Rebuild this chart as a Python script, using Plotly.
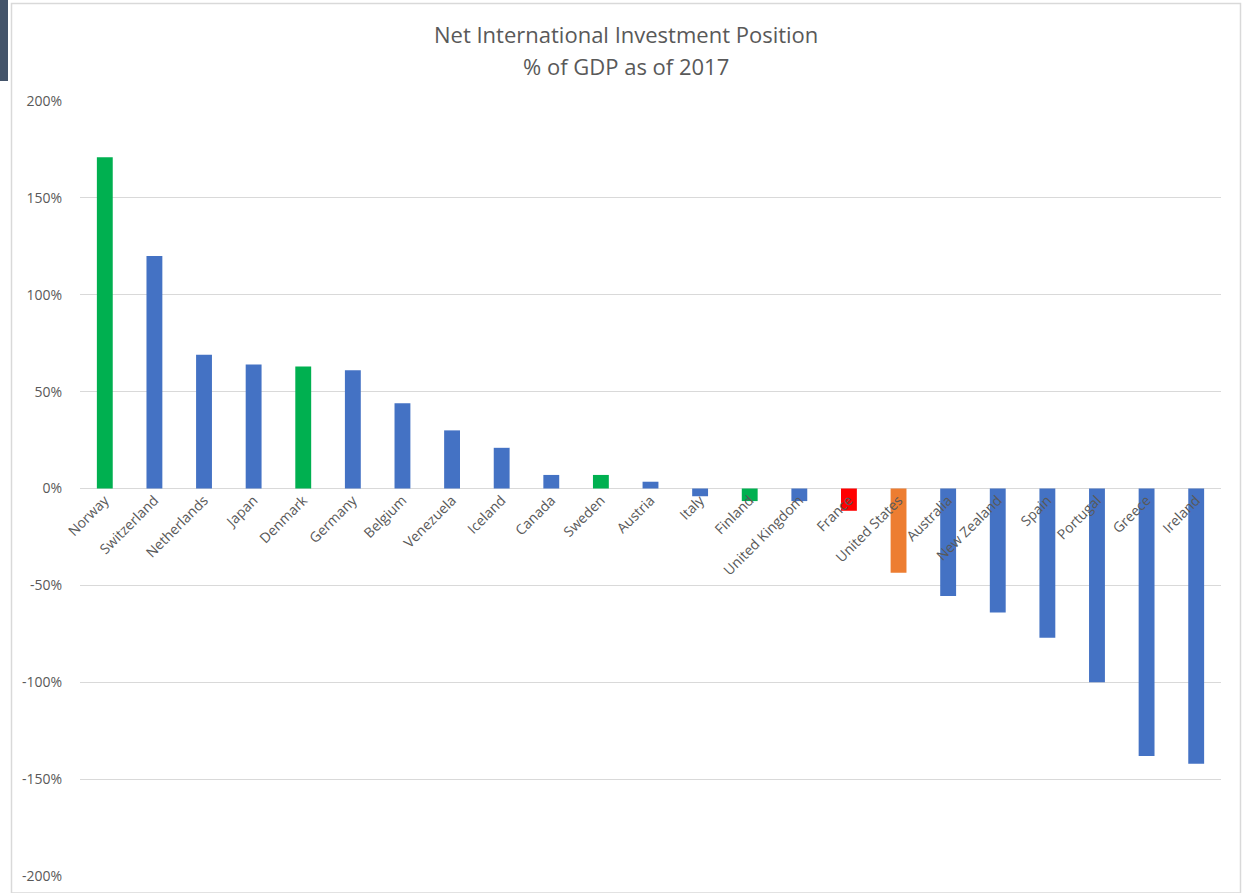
import plotly.graph_objects as go

countries = ["Norway", "Switzerland", "Netherlands", "Japan", "Denmark", "Germany",
             "Belgium", "Venezuela", "Iceland", "Canada", "Sweden", "Austria", "Italy",
             "Finland", "United Kingdom", "France", "United States", "Australia",
             "New Zealand", "Spain", "Portugal", "Greece", "Ireland"]
niip_pct = [171, 120, 69, 64, 63, 61, 44, 30, 21, 7, 7, 3.5, -4, -6.5, -6.5, -11.5,
            -43.5, -55.5, -64, -77, -100, -138, -142]
bar_colors = ["#00B050", "#4472C4", "#4472C4", "#4472C4", "#00B050", "#4472C4",
              "#4472C4", "#4472C4", "#4472C4", "#4472C4", "#00B050", "#4472C4", "#4472C4",
              "#00B050", "#4472C4", "#FF0000", "#ED7D31", "#4472C4",
              "#4472C4", "#4472C4", "#4472C4", "#4472C4", "#4472C4"]
y_ticks = [-200, -150, -100, -50, 0, 50, 100, 150, 200]
y_tick_text = ["-200%", "-150%", "-100%", "-50%", "0%", "50%", "100%", "150%", "200%"]
title_lines = ["Net International Investment Position", "% of GDP as of 2017"]

W, H = 1243, 893
L, R, T, B = 80, 22, 101, 17
pw, ph = W - L - R, H - T - B

def px_x(p):
    return (p - L) / pw

def px_y(p):
    return 1 - (p - T) / ph

fig = go.Figure(go.Bar(x=countries, y=niip_pct, marker=dict(color=bar_colors, line=dict(width=0)),
                       width=0.32))

fig.update_layout(
    width=W, height=H,
    margin=dict(l=L, r=R, t=T, b=B, autoexpand=False),
    paper_bgcolor="white", plot_bgcolor="white",
    font=dict(family="Open Sans, Segoe UI, Calibri, sans-serif", color="#595959"),
    showlegend=False,
    xaxis=dict(anchor="free", position=0.5, tickangle=-45, showgrid=False, showline=False,
               ticks="", tickfont=dict(size=14, color="#595959"), range=[-0.5, 22.5],
               automargin=False),
    yaxis=dict(range=[-200, 200], tickmode="array", tickvals=y_ticks, ticktext=y_tick_text,
               showgrid=True, gridcolor="#D9D9D9", gridwidth=1, zeroline=True,
               zerolinecolor="#D9D9D9", zerolinewidth=1, showline=False, ticks="outside",
               ticklen=14, tickcolor="rgba(0,0,0,0)",
               tickfont=dict(size=14, color="#595959"), automargin=False),
    annotations=[
        dict(text=title_lines[0], xref="paper", yref="paper", x=px_x(626), y=px_y(34),
             xanchor="center", yanchor="middle", showarrow=False,
             font=dict(size=22, color="#595959")),
        dict(text=title_lines[1], xref="paper", yref="paper", x=px_x(626), y=px_y(66),
             xanchor="center", yanchor="middle", showarrow=False,
             font=dict(size=22, color="#595959")),
    ],
    shapes=[
        dict(type="rect", xref="paper", yref="paper", x0=px_x(11.5), x1=px_x(1240.5),
             y0=px_y(893), y1=px_y(3.5), line=dict(color="#D9D9D9", width=1.5), layer="below"),
        dict(type="rect", xref="paper", yref="paper", x0=px_x(0), x1=px_x(8),
             y0=px_y(81), y1=px_y(0), line=dict(width=0), fillcolor="#44546A"),
    ],
)

fig.write_html("out.html", config={"displayModeBar": False},
               post_script="document.body.style.margin='0px';document.body.style.overflow='hidden';")
